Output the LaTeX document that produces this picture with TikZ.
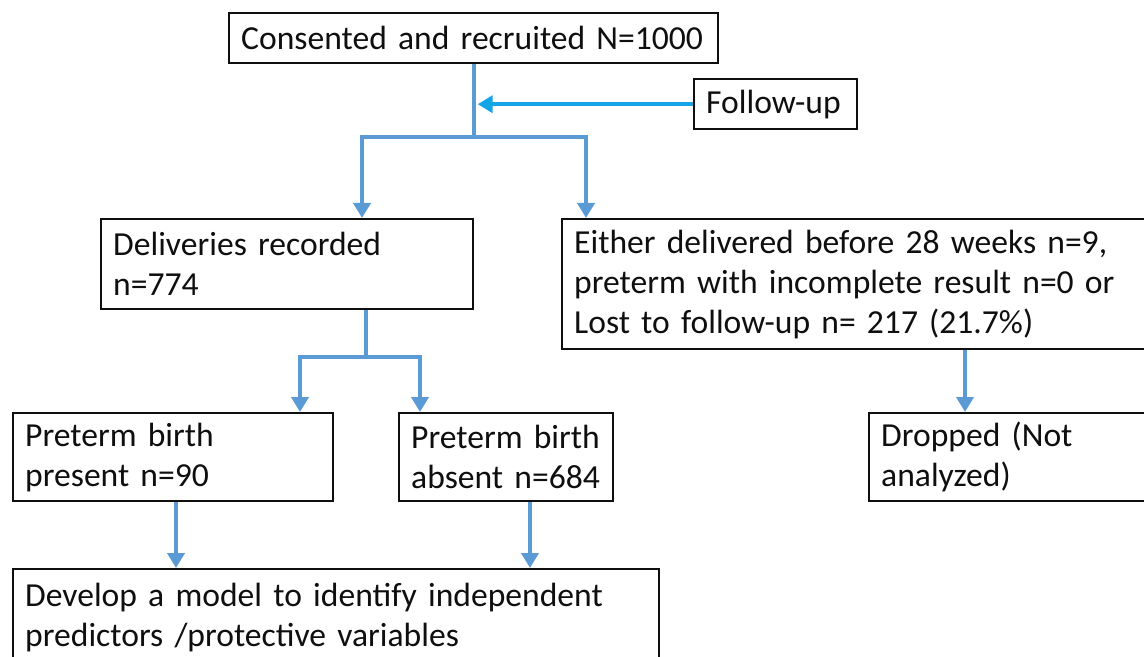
\documentclass[tikz,border=0pt]{standalone}
\usepackage{fontspec}
\setmainfont{Carlito}
\usetikzlibrary{arrows.meta,calc}
\definecolor{flowblue}{RGB}{91,155,213}
\definecolor{fupblue}{RGB}{20,165,230}
\definecolor{ink}{RGB}{15,15,15}
\tikzset{
  box/.style={draw=ink, line width=1.2pt, anchor=north west, align=left,
    inner xsep=6pt, inner ysep=0pt, text=ink,
    font=\fontsize{16.8}{20}\selectfont},
  conn/.style={draw=flowblue, line width=2pt},
  arr/.style={conn, -{Triangle[width=8.5pt,length=7.5pt]}},
  fuparr/.style={draw=fupblue, line width=2pt, -{Triangle[width=8.5pt,length=7.5pt]}}
}
\begin{document}
\begin{tikzpicture}[x=0.5pt,y=-0.5pt]
\useasboundingbox (0,0) rectangle (1144,657);
\clip (0,0) rectangle (1144,657);
\fill[white] (0,0) rectangle (1144,657);

\node[box, text width=232.5pt, minimum height=25pt] (top) at (228,12) {Consented and recruited N=1000};
\node[box, text width=69.5pt, minimum height=25pt] (fup) at (693,78) {Follow-up};
\node[box, text width=174pt, minimum height=45pt] (deliv) at (100,218) {Deliveries recorded\\n=774};
\node[box, text width=282.5pt, minimum height=65pt] (either) at (561,218) {Either delivered before 28 weeks n=9,\\preterm with incomplete result n=0 or\\Lost to follow-up n= 217 (21.7\%)};
\node[box, text width=148pt, minimum height=44pt] (present) at (12,412) {Preterm birth\\present n=90};
\node[box, text width=95pt, minimum height=44pt] (absent) at (398,412) {Preterm birth\\absent n=684};
\node[box, text width=129pt, minimum height=44pt] (dropped) at (868,412) {Dropped (Not\\analyzed)};
\node[box, text width=311pt, minimum height=48pt] (model) at (12,568) {Develop a model to identify independent\\predictors /protective variables};

% top split
\coordinate (bl) at (362,137);
\coordinate (br) at (586,137);
\draw[conn] (top.south) -- (top.south |- bl);
\draw[arr] (top.south |- bl) -- (bl) -- (bl |- deliv.north);
\draw[arr] (top.south |- bl) -- (br) -- (br |- either.north);
\draw[fuparr] (fup.west) -- ($(fup.west -| top.south)+(4,0)$);

% deliveries split
\coordinate (dj) at (366,357);
\coordinate (dl) at (300,357);
\coordinate (dr) at (420,357);
\draw[conn] (dj |- deliv.south) -- (dj);
\draw[arr] (dj) -- (dl) -- (dl |- present.north);
\draw[arr] (dj) -- (dr) -- (dr |- absent.north);

% either to dropped
\coordinate (ed) at (965,0);
\draw[arr] (ed |- either.south) -- (ed |- dropped.north);

% to model
\coordinate (pm) at (176,0);
\coordinate (am) at (530,0);
\draw[arr] (pm |- present.south) -- (pm |- model.north);
\draw[arr] (am |- absent.south) -- (am |- model.north);
\end{tikzpicture}
\end{document}
